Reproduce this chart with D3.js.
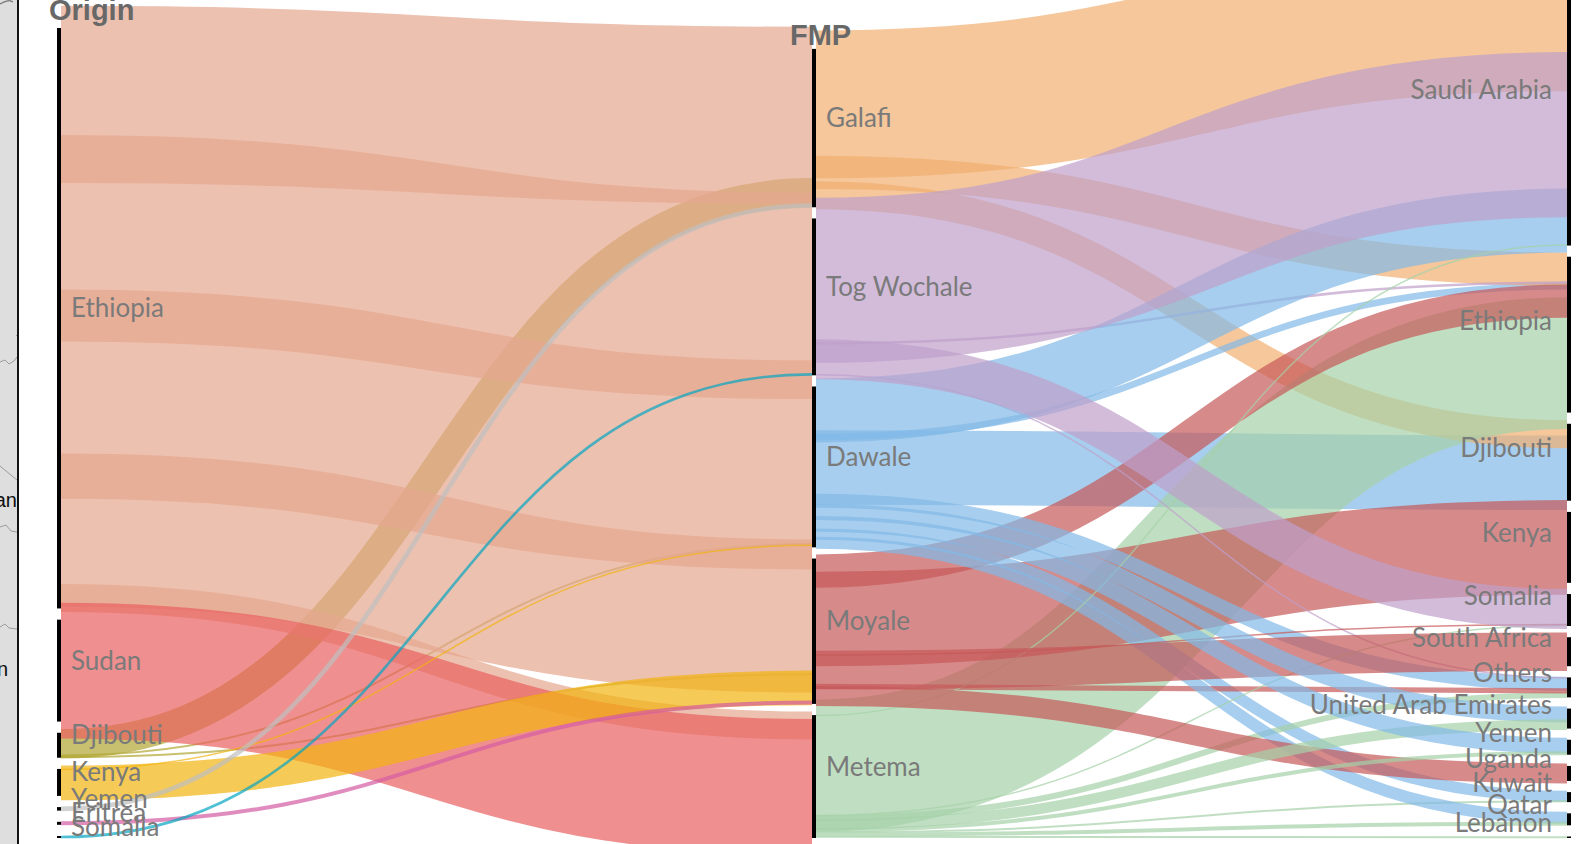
<!DOCTYPE html>
<html>
<head>
<meta charset="utf-8">
<script src="https://cdn.jsdelivr.net/npm/d3@7"></script>
<style>
  body { margin: 0; background: #fff; overflow: hidden; }
  svg { display: block; }
  .node-label { font-family: Lato, "Open Sans", sans-serif; font-size: 26px; fill: #7a7a7a; }
  .col-title { font-family: "Liberation Sans", Arial, sans-serif; font-weight: bold; font-size: 29px; fill: #686868; }
  .map-text { font-family: "Liberation Sans", Arial, sans-serif; font-size: 20px; fill: #111; }
</style>
</head>
<body>
<svg id="chart" width="1582" height="844"></svg>
<script>
// columns of the diagram
const origins = ['Ethiopia', 'Sudan', 'Djibouti', 'Kenya', 'Yemen', 'Eritrea', 'Somalia'];
const fmps = ['Galafi', 'Tog Wochale', 'Dawale', 'Moyale', 'Metema'];
const destinations = ['Saudi Arabia', 'Ethiopia', 'Djibouti', 'Kenya', 'Somalia', 'South Africa', 'Others',
    'United Arab Emirates', 'Yemen', 'Uganda', 'Kuwait', 'Qatar', 'Lebanon'];

// origin -> flow monitoring point (movements)
const originFlows = [
    ['Ethiopia', 'Galafi', 13300],
    ['Ethiopia', 'Tog Wochale', 15500],
    ['Ethiopia', 'Dawale', 15700],
    ['Ethiopia', 'Moyale', 11500],
    ['Ethiopia', 'Metema', 2100],
    ['Sudan', 'Metema', 10200],
    ['Djibouti', 'Galafi', 2200],
    ['Djibouti', 'Dawale', 150],
    ['Djibouti', 'Moyale', 150],
    ['Kenya', 'Dawale', 100],
    ['Kenya', 'Moyale', 2600],
    ['Yemen', 'Galafi', 350],
    ['Eritrea', 'Moyale', 300],
    ['Somalia', 'Tog Wochale', 200]
];

// flow monitoring point -> intended destination (movements)
const fmpFlows = [
    ['Galafi', 'Saudi Arabia', 11100],
    ['Galafi', 'Ethiopia', 2500],
    ['Galafi', 'Djibouti', 2100],
    ['Tog Wochale', 'Saudi Arabia', 12400],
    ['Tog Wochale', 'Ethiopia', 200],
    ['Tog Wochale', 'Somalia', 3000],
    ['Tog Wochale', 'Others', 100],
    ['Dawale', 'Saudi Arabia', 4800],
    ['Dawale', 'Ethiopia', 500],
    ['Dawale', 'Djibouti', 5600],
    ['Dawale', 'Others', 1050],
    ['Dawale', 'United Arab Emirates', 1200],
    ['Dawale', 'Yemen', 1200],
    ['Dawale', 'Kuwait', 850],
    ['Dawale', 'Qatar', 900],
    ['Moyale', 'Ethiopia', 2500],
    ['Moyale', 'Kenya', 7100],
    ['Moyale', 'Somalia', 100],
    ['Moyale', 'South Africa', 2900],
    ['Moyale', 'Others', 400],
    ['Moyale', 'Uganda', 1500],
    ['Metema', 'Saudi Arabia', 100],
    ['Metema', 'Ethiopia', 9900],
    ['Metema', 'Somalia', 100],
    ['Metema', 'Others', 450],
    ['Metema', 'United Arab Emirates', 800],
    ['Metema', 'Yemen', 300],
    ['Metema', 'Kuwait', 150],
    ['Metema', 'Qatar', 300],
    ['Metema', 'Lebanon', 150]
];

const originColors = ['#e5a68f', '#ea6060', '#b0a530', '#f2b310', '#bfbfbf', '#d45ba2', '#05a5c2'];
const fmpColors = ['#f1af70', '#bf9fca', '#81b9e7', '#c65858', '#a5d1a8'];

// which origin's links get painted first (bottom) to last (top)
const originPaintOrder = ['Djibouti', 'Ethiopia', 'Sudan', 'Kenya', 'Eritrea', 'Somalia', 'Yemen'];

const svg = d3.select('#chart');
const DIM = {
    width: 1582,
    height: 844,
    bottom: 838,
    left_top: 28,
    pad: 11.2,
    bar_width: 4,
    col_x: [57, 812, 1567],
    link_widen: 4 / 3
};

// nodes per column
const columns = [origins, fmps, destinations];
const nodes = [];
const nodeByKey = {};
columns.forEach((names, c) => {
    names.forEach((name, i) => {
        const n = { name: name, col: c, index: i, inLinks: [], outLinks: [] };
        nodes.push(n);
        nodeByKey[c + ':' + name] = n;
    });
});

const links = [];
originFlows.forEach(([s, t, v]) => links.push({ source: nodeByKey['0:' + s], target: nodeByKey['1:' + t], value: v, color: originColors[origins.indexOf(s)] }));
fmpFlows.forEach(([s, t, v]) => links.push({ source: nodeByKey['1:' + s], target: nodeByKey['2:' + t], value: v, color: fmpColors[fmps.indexOf(s)] }));
links.forEach(l => { l.source.outLinks.push(l); l.target.inLinks.push(l); });

nodes.forEach(n => {
    n.value = Math.max(d3.sum(n.inLinks, l => l.value), d3.sum(n.outLinks, l => l.value));
});

// one vertical scale, fitted to the origin column
const originTotal = d3.sum(nodes.filter(n => n.col === 0), n => n.value);
const ky = d3.scaleLinear()
    .domain([0, originTotal])
    .range([0, DIM.bottom - DIM.left_top - DIM.pad * (origins.length - 1)]);

// every column is stacked up from the same bottom line
columns.forEach((names, c) => {
    let y = DIM.bottom;
    names.slice().reverse().forEach(name => {
        const n = nodeByKey[c + ':' + name];
        n.y1 = y;
        n.y0 = y - ky(n.value);
        y = n.y0 - DIM.pad;
    });
});

// link ends stacked inside their nodes
nodes.forEach(n => {
    let y = n.y0;
    n.outLinks.sort((a, b) => a.target.index - b.target.index).forEach(l => {
        l.sy = y + ky(l.value) / 2;
        y += ky(l.value);
    });
    y = n.y0;
    n.inLinks.sort((a, b) => a.source.index - b.source.index).forEach(l => {
        l.ty = y + ky(l.value) / 2;
        y += ky(l.value);
    });
});

// paint order: origin links by originPaintOrder, FMP links alphabetically by target then source
const drawOrder = links.slice().sort((a, b) => {
    if (a.source.col !== b.source.col) return a.source.col - b.source.col;
    if (a.source.col === 0) {
        return originPaintOrder.indexOf(a.source.name) - originPaintOrder.indexOf(b.source.name) ||
            a.target.index - b.target.index;
    }
    return d3.ascending(a.target.name, b.target.name) || d3.ascending(a.source.name, b.source.name);
});

// leftover map panel on the left edge
const mapPanel = svg.append('g').attr('class', 'map-panel');
mapPanel.append('rect').attr('x', 0).attr('y', 0).attr('width', 18).attr('height', DIM.height).attr('fill', '#dedede');
mapPanel.append('path')
    .attr('d', 'M0,4 Q6,-1 13,2 L10,0 Z')
    .attr('fill', '#bcd8ee').attr('stroke', '#555').attr('stroke-width', 0.6);
mapPanel.append('path')
    .attr('d', 'M0,362 L5,360 L9,364 L14,361 L17,357 M16,335 L17,336 M0,466 L17,480 M0,527 L6,525 L11,531 L17,532 M0,627 L5,624 L9,628 L17,629')
    .attr('fill', 'none').attr('stroke', '#8a8a8a').attr('stroke-width', 0.8);
mapPanel.append('text').attr('class', 'map-text').attr('x', 17).attr('y', 507).attr('text-anchor', 'end').text('an');
mapPanel.append('text').attr('class', 'map-text').attr('x', 8).attr('y', 676).attr('text-anchor', 'end').text('n');
mapPanel.append('line').attr('x1', 18).attr('x2', 18).attr('y1', 0).attr('y2', DIM.height).attr('stroke', '#111').attr('stroke-width', 2);

const linkPath = d3.linkHorizontal();

svg.append('g')
    .attr('class', 'links')
    .selectAll('path')
    .data(drawOrder)
    .join('path')
    .attr('d', d => linkPath({
        source: [DIM.col_x[d.source.col] + DIM.bar_width, d.sy],
        target: [DIM.col_x[d.target.col], d.ty]
    }))
    .attr('fill', 'none')
    .attr('stroke', d => d.color)
    .attr('stroke-opacity', 0.7)
    .attr('stroke-width', d => Math.max(1.5, ky(d.value) * DIM.link_widen));

svg.append('g')
    .attr('class', 'nodes')
    .selectAll('rect')
    .data(nodes)
    .join('rect')
    .attr('x', d => DIM.col_x[d.col])
    .attr('y', d => d.y0)
    .attr('width', DIM.bar_width)
    .attr('height', d => Math.max(1.5, d.y1 - d.y0))
    .attr('fill', '#000');

svg.append('g')
    .attr('class', 'labels')
    .selectAll('text')
    .data(nodes)
    .join('text')
    .attr('class', 'node-label')
    .attr('x', d => d.col === 2 ? DIM.col_x[2] - 15 : DIM.col_x[d.col] + DIM.bar_width + 10)
    .attr('y', d => (d.y0 + d.y1) / 2 + (d.col === 2 ? -5 : -1))
    .attr('text-anchor', d => d.col === 2 ? 'end' : 'start')
    .text(d => d.name);

svg.append('text').attr('class', 'col-title').attr('x', 49).attr('y', 20).text('Origin');
svg.append('text').attr('class', 'col-title').attr('x', 790).attr('y', 45).text('FMP');
</script>
</body>
</html>
